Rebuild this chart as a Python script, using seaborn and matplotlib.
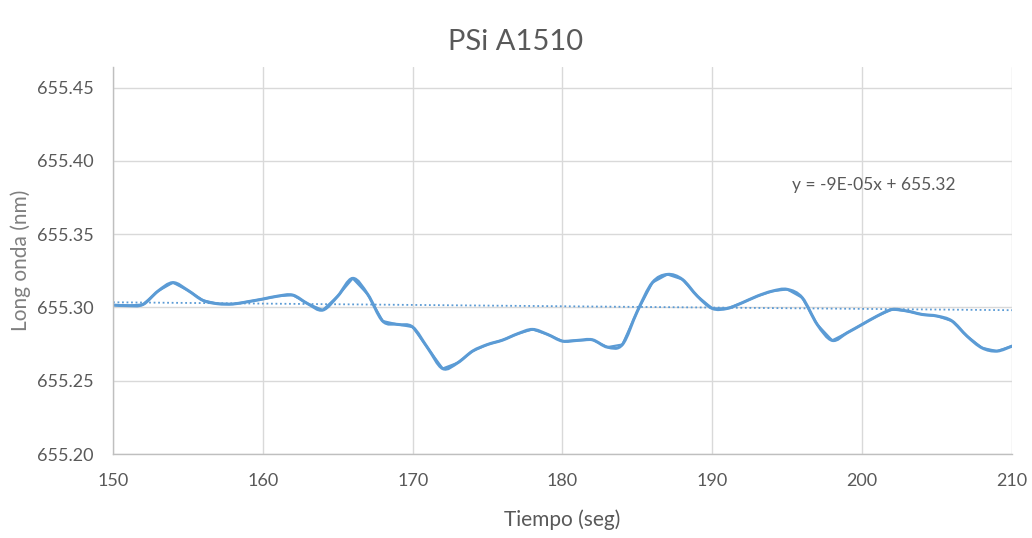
import numpy as np
import pandas as pd
import matplotlib
matplotlib.use("Agg")
import matplotlib.pyplot as plt
from matplotlib.path import Path
from matplotlib.patches import PathPatch
import seaborn as sns

# valores (cada segundo)
tiempo = list(range(150, 211))
long_onda = [
    655.3016, 655.3012, 655.3020, 655.3111, 655.3169, 655.3116, 655.3048, 655.3025, 655.3023, 655.3039,
    655.3057, 655.3077, 655.3084, 655.3025, 655.2982, 655.3077, 655.3198, 655.3089, 655.2907, 655.2884,
    655.2866, 655.2724, 655.2583, 655.2622, 655.2702, 655.2747, 655.2777, 655.2820, 655.2850, 655.2816,
    655.2770, 655.2775, 655.2779, 655.2729, 655.2747, 655.2975, 655.3169, 655.3225, 655.3191, 655.3077,
    655.2993, 655.2993, 655.3032, 655.3077, 655.3111, 655.3123, 655.3066, 655.2884, 655.2775, 655.2827,
    655.2884, 655.2941, 655.2986, 655.2975, 655.2952, 655.2941, 655.2907, 655.2804, 655.2724, 655.2702,
    655.2736,
]

# linea de tendencia (como en la grafica)
trend_slope = -9e-05
trend_intercept = 655.317
trend_label = "y = -9E-05x + 655.32"

x_ticks = [150, 160, 170, 180, 190, 200, 210]
y_ticks = [655.20, 655.25, 655.30, 655.35, 655.40, 655.45]

df = pd.DataFrame({"tiempo": tiempo, "long_onda": long_onda})
df["tendencia"] = trend_intercept + trend_slope * df["tiempo"]

sns.set_style("white")
plt.rcParams["font.family"] = ["Lato", "DejaVu Sans"]

azul = "#5B9BD5"
gris = "#595959"

fig = plt.figure(figsize=(10.32, 5.38), dpi=100)
ax = fig.add_axes([0.1095, 0.1561, 0.8711, 0.7194])

sns.lineplot(data=df, x="tiempo", y="long_onda", color=azul, linewidth=1.6, ax=ax,
             solid_joinstyle="round", solid_capstyle="round")

# suavizado tipo Excel (curvas bezier que pasan por los puntos)
px = df["tiempo"].to_numpy(dtype=float)
py = df["long_onda"].to_numpy()
verts = [(px[0], py[0])]
codes = [Path.MOVETO]
t = 1.0 / 6.0
for i in range(len(px) - 1):
    i0 = max(i - 1, 0)
    i3 = min(i + 2, len(px) - 1)
    c1 = (px[i] + (px[i + 1] - px[i0]) * t, py[i] + (py[i + 1] - py[i0]) * t)
    c2 = (px[i + 1] - (px[i3] - px[i]) * t, py[i + 1] - (py[i3] - py[i]) * t)
    verts += [c1, c2, (px[i + 1], py[i + 1])]
    codes += [Path.CURVE4] * 3
ax.add_patch(PathPatch(Path(verts, codes), facecolor="none", edgecolor=azul,
                       linewidth=2.2, capstyle="round", joinstyle="round"))

sns.lineplot(data=df, x="tiempo", y="tendencia", color=azul, linewidth=1.3,
             linestyle=(0, (1, 1.5)), ax=ax)

ax.set_xlim(150, 210)
ax.set_ylim(655.20, 655.464)
ax.set_xticks(x_ticks)
ax.set_yticks(y_ticks)
ax.set_yticklabels([f"{v:.2f}" for v in y_ticks])
ax.grid(True, color="#D9D9D9", linewidth=1.0)
ax.set_axisbelow(True)
ax.tick_params(axis="both", length=0, labelsize=13, colors=gris)
ax.tick_params(axis="x", pad=14)
ax.tick_params(axis="y", pad=14)

for s in ["top", "right"]:
    ax.spines[s].set_visible(False)
for s in ["left", "bottom"]:
    ax.spines[s].set_color("#BFBFBF")
    ax.spines[s].set_linewidth(1.0)

ax.set_xlabel("Tiempo (seg)", fontsize=15, color=gris, labelpad=14)
ax.set_ylabel("Long onda (nm)", fontsize=15, color="#7F7F7F", labelpad=4)

ax.text(195.3, 655.3837, trend_label, fontsize=12.5, color=gris, ha="left", va="center")

fig.text(0.5, 0.922, "PSi A1510", fontsize=21, color=gris, ha="center", va="center")

fig.savefig("out.png", dpi=100)
